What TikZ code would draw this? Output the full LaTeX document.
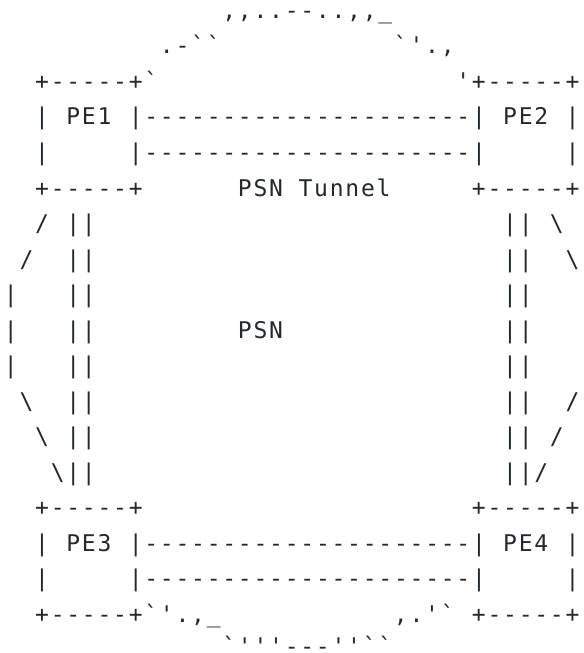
\documentclass[tikz,border=0pt]{standalone}
\usepackage{fontspec}
\setmonofont{DejaVu Sans Mono}[LetterSpace=7.65]
\usepackage{tikz}
\usetikzlibrary{positioning}
\definecolor{asciiInk}{RGB}{36,41,47}
\DeclareRobustCommand{\asc}[1]{\detokenize{#1}}
\tikzset{
  asciiText/.style={
    font=\ttfamily\fontsize{17.25pt}{20pt}\selectfont,
    text=asciiInk,
    inner sep=0pt,
    anchor=base west
  },
  peLabel/.style={asciiText},
  arcChar/.style={asciiText}
}

\begin{document}
\begin{tikzpicture}[x=11.7pt, y=-26.625pt]
  \useasboundingbox (-0.237,-0.521) rectangle (37.135,17.873);

  % PSN cloud, upper edge
  \node[arcChar] (arcTop) at (14,0) {\asc{,,..--..,,_}};
  \node[arcChar] (arcTopL) at (10,1) {\asc{.-``}};
  \node[arcChar] (arcTopR) at (25,1) {\asc{`'.,}};

  % PE1 and PE2 with the tunnel
  \node[asciiText] (pe1Top) at (2,2) {\asc{+-----+`}};
  \node[asciiText] (pe2Top) at (29,2) {\asc{'+-----+}};
  \node[asciiText] (pe1SideA) at (2,3) {|};
  \node[peLabel] (pe1) at (4,3) {PE1};
  \node[asciiText] (tunnelTopA) at (8,3) {\asc{|---------------------|}};
  \node[peLabel] (pe2) at (32,3) {PE2};
  \node[asciiText] (pe2SideA) at (36,3) {|};
  \node[asciiText] (pe1SideB) at (2,4) {|};
  \node[asciiText] (tunnelTopB) at (8,4) {\asc{|---------------------|}};
  \node[asciiText] (pe2SideB) at (36,4) {|};
  \node[asciiText] (pe1Bot) at (2,5) {\asc{+-----+}};
  \node[asciiText] (tunnelLabel) at (15,5) {PSN Tunnel};
  \node[asciiText] (pe2Bot) at (30,5) {\asc{+-----+}};

  % vertical pseudowires
  \foreach \r in {6,...,13} {
    \node[asciiText] (wireL\r) at (4,\r) {||};
    \node[asciiText] (wireR\r) at (32,\r) {||};
  }

  % PSN cloud, sides
  \node[arcChar] (arcL6) at (2,6) {/};
  \node[arcChar] (arcL7) at (1,7) {/};
  \node[arcChar] (arcL8) at (0,8) {|};
  \node[arcChar] (arcL9) at (0,9) {|};
  \node[arcChar] (arcL10) at (0,10) {|};
  \node[arcChar] (arcL11) at (1,11) {\textbackslash};
  \node[arcChar] (arcL12) at (2,12) {\textbackslash};
  \node[arcChar] (arcL13) at (3,13) {\textbackslash};
  \node[arcChar] (arcR6) at (35,6) {\textbackslash};
  \node[arcChar] (arcR7) at (36,7) {\textbackslash};
  \node[arcChar] (arcR11) at (36,11) {/};
  \node[arcChar] (arcR12) at (35,12) {/};
  \node[arcChar] (arcR13) at (34,13) {/};

  \node[asciiText] (psn) at (15,9) {PSN};

  % PE3 and PE4 with the tunnel
  \node[asciiText] (pe3Top) at (2,14) {\asc{+-----+}};
  \node[asciiText] (pe4Top) at (30,14) {\asc{+-----+}};
  \node[asciiText] (pe3SideA) at (2,15) {|};
  \node[peLabel] (pe3) at (4,15) {PE3};
  \node[asciiText] (tunnelBotA) at (8,15) {\asc{|---------------------|}};
  \node[peLabel] (pe4) at (32,15) {PE4};
  \node[asciiText] (pe4SideA) at (36,15) {|};
  \node[asciiText] (pe3SideB) at (2,16) {|};
  \node[asciiText] (tunnelBotB) at (8,16) {\asc{|---------------------|}};
  \node[asciiText] (pe4SideB) at (36,16) {|};
  \node[asciiText] (pe3Bot) at (2,17) {\asc{+-----+`'.,_}};
  \node[arcChar] (arcBotR) at (25,17) {\asc{,.'`}};
  \node[asciiText] (pe4Bot) at (30,17) {\asc{+-----+}};

  % PSN cloud, lower edge
  \node[arcChar] (arcBot) at (14,17.92) {\asc{`'''---''``}};
\end{tikzpicture}
\end{document}
